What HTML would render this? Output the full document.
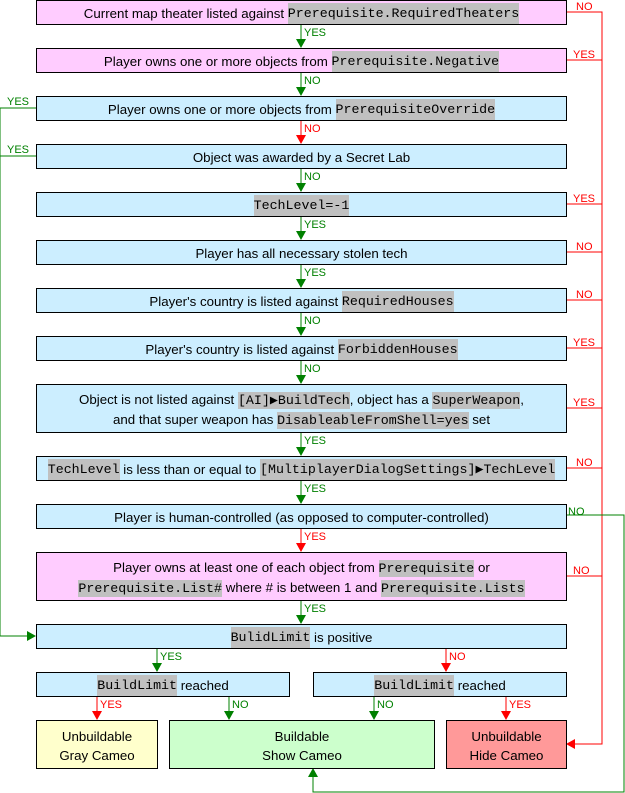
<!DOCTYPE html>
<html><head><meta charset="utf-8"><style>
body{margin:0;width:625px;height:793px;background:#fff;position:relative;overflow:hidden;font-family:"Liberation Sans",sans-serif;font-size:13.3px;}
.b{position:absolute;box-sizing:border-box;border:1px solid #000;display:flex;align-items:center;justify-content:center;text-align:center;line-height:19px;color:#000;padding-top:2px;}
.p{background:#ffccff}.c{background:#cceeff}
code{font-family:"Liberation Mono",monospace;font-size:13.3px;background:#c0c0c0;padding:1px 0;}
svg{position:absolute;left:0;top:0}
svg text{font-family:"Liberation Sans",sans-serif;font-size:11px}
</style></head><body>
<svg width="625" height="793">
<g stroke-width="1" fill="none">
<path d="M566 12H602V744H574" stroke="#f00"/>
<path d="M566 60H602M566 204H602M566 252H602M566 300H602M566 348H602M566 408H602M566 468H602M566 576H602" stroke="#f00"/>
<path d="M36 108H0V636H30M36 156H0" stroke="#008000"/>
<path d="M566 515H624V792H313V776" stroke="#008000"/>
<path d="M301 24V40M301 72V88M301 168V184M301 216V232M301 264V280M301 312V328M301 360V376M301 432V448M301 480V496M301 600V616M157 648V664M229 696V712M374 696V712" stroke="#008000"/>
<path d="M301 120V136M301 528V544M446 648V664M97 696V712M506 696V712" stroke="#f00"/>
</g>
<g fill="#008000">
<path d="M296 39h10l-5 9zM296 87h10l-5 9zM296 183h10l-5 9zM296 231h10l-5 9zM296 279h10l-5 9zM296 327h10l-5 9zM296 375h10l-5 9zM296 447h10l-5 9zM296 495h10l-5 9zM296 615h10l-5 9zM152 663h10l-5 9zM224 711h10l-5 9zM369 711h10l-5 9zM27 631v10l9-5zM308 777h10l-5-9z"/>
<text x="304" y="36">YES</text><text x="304" y="84">NO</text><text x="304" y="180">NO</text><text x="304" y="228">YES</text><text x="304" y="276">YES</text><text x="304" y="324">NO</text><text x="304" y="372">NO</text><text x="304" y="444">YES</text><text x="304" y="492">YES</text><text x="304" y="612">YES</text>
<text x="160" y="660">YES</text><text x="232" y="708">NO</text><text x="377" y="708">NO</text>
<text x="7" y="105">YES</text><text x="7" y="153">YES</text><text x="568" y="515">NO</text>
</g>
<g fill="#f00">
<path d="M296 135h10l-5 9zM296 543h10l-5 9zM441 663h10l-5 9zM92 711h10l-5 9zM501 711h10l-5 9zM575 739v10l-9-5z"/>
<text x="304" y="132">NO</text><text x="304" y="540">YES</text><text x="449" y="660">NO</text><text x="100" y="708">YES</text><text x="509" y="708">YES</text>
<text x="576" y="10">NO</text><text x="573" y="58">YES</text><text x="573" y="202">YES</text><text x="576" y="250">NO</text><text x="576" y="298">NO</text><text x="573" y="346">YES</text><text x="573" y="406">YES</text><text x="576" y="466">NO</text><text x="573" y="574">NO</text>
</g>
</svg>
<div class="b p" style="left:36px;top:0;width:531px;height:25px">Current map theater listed against&nbsp;<code>Prerequisite.RequiredTheaters</code></div>
<div class="b p" style="left:36px;top:48px;width:531px;height:25px">Player owns one or more objects from&nbsp;<code>Prerequisite.Negative</code></div>
<div class="b c" style="left:36px;top:96px;width:531px;height:25px">Player owns one or more objects from&nbsp;<code>PrerequisiteOverride</code></div>
<div class="b c" style="left:36px;top:144px;width:531px;height:25px">Object was awarded by a Secret Lab</div>
<div class="b c" style="left:36px;top:192px;width:531px;height:25px"><code>TechLevel=-1</code></div>
<div class="b c" style="left:36px;top:240px;width:531px;height:25px">Player has all necessary stolen tech</div>
<div class="b c" style="left:36px;top:288px;width:531px;height:25px">Player's country is listed against&nbsp;<code>RequiredHouses</code></div>
<div class="b c" style="left:36px;top:336px;width:531px;height:25px">Player's country is listed against&nbsp;<code>ForbiddenHouses</code></div>
<div class="b c" style="left:36px;top:384px;width:531px;height:49px"><div>Object is not listed against <code>[AI]▶BuildTech</code>, object has a <code>SuperWeapon</code>,<br>and that super weapon has <code>DisableableFromShell=yes</code> set</div></div>
<div class="b c" style="left:36px;top:456px;width:531px;height:25px"><code>TechLevel</code>&nbsp;is less than or equal to&nbsp;<code>[MultiplayerDialogSettings]▶TechLevel</code></div>
<div class="b c" style="left:36px;top:504px;width:531px;height:25px">Player is human-controlled (as opposed to computer-controlled)</div>
<div class="b p" style="left:36px;top:552px;width:531px;height:49px"><div>Player owns at least one of each object from <code>Prerequisite</code> or<br><code>Prerequisite.List#</code> where # is between 1 and <code>Prerequisite.Lists</code></div></div>
<div class="b c" style="left:36px;top:624px;width:531px;height:25px"><code>BulidLimit</code>&nbsp;is positive</div>
<div class="b c" style="left:36px;top:672px;width:254px;height:25px"><code>BuildLimit</code>&nbsp;reached</div>
<div class="b c" style="left:313px;top:672px;width:254px;height:25px"><code>BuildLimit</code>&nbsp;reached</div>
<div class="b" style="left:36px;top:720px;width:122px;height:49px;background:#ffffcc">Unbuildable<br>Gray Cameo</div>
<div class="b" style="left:169px;top:720px;width:266px;height:49px;background:#ccffcc">Buildable<br>Show Cameo</div>
<div class="b" style="left:446px;top:720px;width:121px;height:49px;background:#ff9999">Unbuildable<br>Hide Cameo</div>
</body></html>
